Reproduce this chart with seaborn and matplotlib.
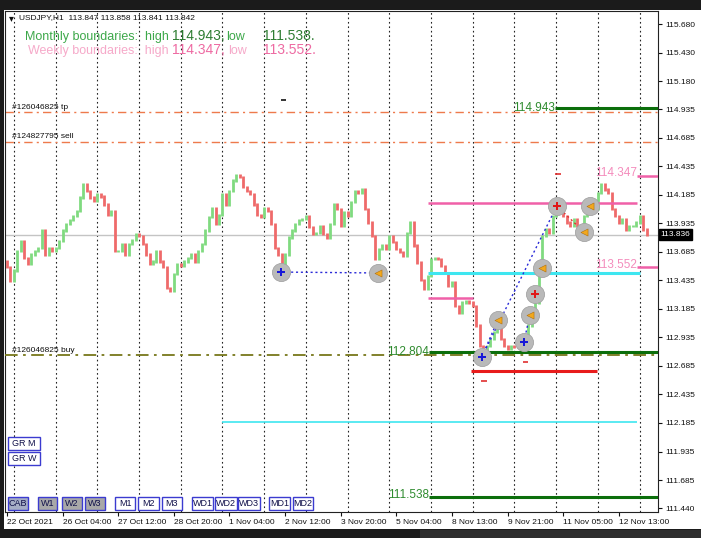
import numpy as np
import seaborn as sns
import matplotlib.pyplot as plt
import matplotlib.transforms as mtransforms
from matplotlib.patches import Rectangle

# USDJPY H1 closes, read every 2 bars off the chart (bar 0 = 22 Oct 20:00)
closes = [113.55, 113.43, 113.52, 113.69, 113.78, 113.63, 113.58, 113.66, 113.69, 113.72,
          113.87, 113.66, 113.72, 113.69, 113.72, 113.78, 113.87, 113.93, 113.96, 114.00,
          114.04, 114.16, 114.28, 114.22, 114.16, 114.13, 114.19, 114.17, 114.10, 114.01,
          114.04, 113.69, 113.69, 113.75, 113.66, 113.75, 113.79, 113.84, 113.82, 113.75,
          113.66, 113.58, 113.60, 113.69, 113.60, 113.55, 113.37, 113.34, 113.49, 113.58,
          113.56, 113.60, 113.63, 113.66, 113.60, 113.69, 113.75, 113.87, 113.99, 114.07,
          113.93, 114.01, 114.19, 114.10, 114.22, 114.31, 114.36, 114.34, 114.25, 114.22,
          114.19, 114.10, 114.01, 113.99, 114.07, 114.04, 113.93, 113.72, 113.66, 113.55,
          113.66, 113.81, 113.87, 113.93, 113.96, 113.97, 114.00, 113.90, 113.84, 113.85,
          113.91, 113.84, 113.81, 113.93, 114.10, 114.06, 113.91, 114.03, 114.00, 114.12,
          114.22, 114.20, 114.23, 114.06, 113.94, 113.82, 113.62, 113.71, 113.74, 113.71,
          113.82, 113.77, 113.71, 113.68, 113.65, 113.85, 113.94, 113.74, 113.59, 113.44,
          113.36, 113.47, 113.62, 113.63, 113.62, 113.56, 113.50, 113.39, 113.42, 113.21,
          113.15, 113.24, 113.25, 113.24, 113.21, 113.04, 112.86, 112.77, 112.86, 112.92,
          112.98, 113.06, 112.92, 112.86, 112.83, 112.86, 112.85, 112.86, 112.89, 112.95,
          113.04, 113.12, 113.24, 113.53, 113.82, 113.88, 113.85, 114.00, 114.09, 114.06,
          114.00, 113.94, 113.91, 113.97, 113.91, 113.88, 114.00, 114.06, 114.09, 114.06,
          114.20, 114.28, 114.23, 114.20, 114.06, 114.00, 113.94, 113.97, 113.88, 113.91,
          113.91, 113.94, 114.00, 113.88, 113.836]
first_open = 113.60
last_price = 113.836

x_tick_bars = [0, 32, 64, 96, 128, 160, 192, 224, 256, 288, 320, 352]
x_tick_labels = ['22 Oct 2021', '26 Oct 04:00', '27 Oct 12:00', '28 Oct 20:00',
                 '1 Nov 04:00', '2 Nov 12:00', '3 Nov 20:00', '5 Nov 04:00',
                 '8 Nov 13:00', '9 Nov 21:00', '11 Nov 05:00', '12 Nov 13:00']
y_ticks = [115.680, 115.430, 115.180, 114.935, 114.685, 114.435, 114.185, 113.935, 113.685,
           113.435, 113.185, 112.935, 112.685, 112.435, 112.185, 111.935, 111.685, 111.440]
day_bars = [4, 28, 52, 76, 100, 124, 148, 172, 196, 220, 244, 268, 292, 316, 340, 364]

# boundaries / order levels
month_high, month_low = 114.943, 111.538
week_high, week_low = 114.347, 113.552
tp_price, sell_price, buy_price = 114.905, 114.648, 112.78
level_112 = 112.804

# trade markers (bar, price, kind)
mark_bar = [157.9, 213.3, 273.2, 282.4, 297.4, 300.9, 303.7, 307.8, 316.4, 335.4, 332.0]
mark_price = [113.507, 113.499, 112.763, 113.087, 112.894, 113.131, 113.315, 113.542,
              114.086, 114.086, 113.858]
mark_kind = ['buy', 'close', 'buy', 'close', 'buy', 'close', 'sell', 'close', 'sell',
             'close', 'close']

buttons_bottom = ['CAB', 'W1', 'W2', 'W3', 'M1', 'M2', 'M3', 'WD1', 'WD2', 'WD3', 'MD1', 'MD2']

sns.set_style('white')
plt.rcParams['font.family'] = ['Liberation Sans', 'DejaVu Sans']

W, H = 701, 538
def fx(x):
    return x / W
def fy(y):
    return 1 - y / H

fig = plt.figure(figsize=(7.01, 5.38), dpi=100, facecolor='#1b1b1b')
fig.patches.append(Rectangle((fx(4), fy(529)), 697 / W, 519 / H, transform=fig.transFigure,
                             facecolor='white', edgecolor='none', zorder=-10))
fig.patches.append(Rectangle((fx(420), 0), 281 / W, 8 / H, transform=fig.transFigure,
                             facecolor='#2e2e2e', edgecolor='none', zorder=-10))

ax = fig.add_axes([fx(5), fy(512), fx(658) - fx(5), fy(11) - fy(512)])
ax.set_zorder(1)
x_right = 374.6
ax.set_xlim(-1.15, x_right)
ax.set_ylim(111.405, 115.794)

# day separators
for b in day_bars:
    ax.axvline(b, color='#222222', lw=0.8, ls=(0, (1.5, 2.5)), zorder=1)

# current price line
ax.axhline(last_price, color='#c4c4c4', lw=1, zorder=1)

# candles
bars = np.arange(len(closes)) * 2
c = np.array(closes)
o = np.concatenate([[first_open], c[:-1]])
cols = np.where(c >= o, '#80da80', '#ef6a6a')
ax.vlines(bars, np.minimum(o, c) - 0.01, np.maximum(o, c) + 0.01, colors=cols, lw=2.0, zorder=3)

# order lines
dashdot = (0, (6, 3, 1.5, 3))
ax.axhline(tp_price, color='#ee7a4c', lw=1, ls=dashdot, zorder=2)
ax.axhline(sell_price, color='#ee7a4c', lw=1, ls=dashdot, zorder=2)
ax.axhline(buy_price, color='#77771a', lw=1.3, ls=(0, (7, 3, 1.5, 3)), zorder=4)
ax.text(2.9, tp_price + 0.012, '#126046825 tp', fontsize=6, va='bottom', color='#111111')
ax.text(2.9, sell_price + 0.012, '#124827795 sell', fontsize=6, va='bottom', color='#111111')
ax.text(2.9, buy_price + 0.005, '#126046825 buy', fontsize=6, va='bottom', color='#111111')

# boundary levels
green = '#0b6e0b'
ax.hlines(month_high, 315.3, x_right, color=green, lw=2.2, zorder=5)
ax.hlines(level_112, 242.7, x_right, color=green, lw=2.2, zorder=5)
ax.hlines(month_low, 242.7, x_right, color=green, lw=2.2, zorder=5)
ax.hlines(week_high, 362.5, x_right, color='#f060a8', lw=1.8, zorder=5)
ax.hlines(week_low, 362.5, x_right, color='#f060a8', lw=1.8, zorder=5)
ax.hlines(114.11, 242.1, 362.5, color='#f060a8', lw=1.8, zorder=5)
ax.hlines(113.284, 242.1, 268.0, color='#f060a8', lw=1.8, zorder=5)
ax.hlines(113.503, 242.1, 364.3, color='#3ee6f0', lw=2.2, zorder=5)
ax.hlines(112.193, 123.9, 362.5, color='#3ee6f0', lw=1.2, zorder=5)
ax.hlines(112.64, 266.9, 339.5, color='#e81c1c', lw=2.2, zorder=5)

lab_kw = dict(fontsize=8.5, ha='right', va='center', zorder=6)
ax.text(315.3, month_high, '114.943', color='#2e8b2e', **lab_kw)
ax.text(242.7, level_112, '112.804', color='#2e8b2e', **lab_kw)
ax.text(242.7, month_low + 0.015, '111.538', color='#2e8b2e', **lab_kw)
ax.text(362.5, week_high + 0.025, '114.347', color='#f48cbc', **lab_kw)
ax.text(362.5, week_low + 0.02, '113.552', color='#f48cbc', **lab_kw)

# small dash marks
for b, p, col in [(159.0, 115.68 - 76 / 114.15, '#111111'), (317.0, 114.37, '#e03030'),
                  (298.5, 112.72, '#e03030'), (274.5, 112.55, '#e03030')]:
    ax.hlines(p, b - 1.5, b + 1.5, color=col, lw=1.2, zorder=5)

# trade links
ax.plot([157.9, 213.3], [113.507, 113.499], color='#2a2ad8', lw=1, ls=(0, (1.5, 2)), zorder=6)
ax.plot([273.2, 316.4], [112.763, 114.086], color='#2a2ad8', lw=1, ls=(0, (1.5, 2)), zorder=6)
ax.plot([273.2, 282.4], [112.763, 113.087], color='#2a2ad8', lw=1, ls=(0, (1.5, 2)), zorder=6)
ax.plot([297.4, 300.9], [112.894, 113.131], color='#2a2ad8', lw=1, ls=(0, (1.5, 2)), zorder=6)
ax.plot([316.4, 332.0], [114.086, 113.858], color='#e03030', lw=1, ls=(0, (1.5, 2)), zorder=6)

# trade markers: grey discs with icons
sns.scatterplot(x=mark_bar, y=mark_price, s=170, color='#b9b9b9', edgecolor='#a4a4a4',
                linewidth=0.6, ax=ax, zorder=7, legend=False)
for b, p, k in zip(mark_bar, mark_price, mark_kind):
    if k == 'buy':
        ax.scatter(b, p, marker='P', s=28, color='#1818d8', zorder=8, linewidths=0)
    elif k == 'sell':
        ax.scatter(b, p, marker='P', s=28, color='#e01818', zorder=8, linewidths=0)
    else:
        ax.scatter(b, p, marker='<', s=26, color='#f2a81c', edgecolor='#b07010',
                   linewidths=0.4, zorder=8)

# axes styling
ax.yaxis.tick_right()
ax.set_yticks(y_ticks)
ax.set_yticklabels([f'{v:.3f}' for v in y_ticks])
ax.set_xticks(x_tick_bars)
ax.set_xticklabels(x_tick_labels)
for lab in ax.get_xticklabels():
    lab.set_ha('left')
ax.tick_params(axis='both', length=3, width=0.8, pad=2, labelsize=6, colors='#111111',
               direction='out')
ax.tick_params(axis='x', bottom=True)
ax.tick_params(axis='y', right=True, left=False)
for s in ax.spines.values():
    s.set_color('#222222')
    s.set_linewidth(0.8)

trans = mtransforms.blended_transform_factory(ax.transAxes, ax.transData)
ax.text(1.004, last_price, '113.836', transform=trans, fontsize=6, color='white',
        va='center', ha='left',
        bbox=dict(boxstyle='square,pad=0.2', facecolor='black', edgecolor='black'))

# header texts
fig.text(fx(9), fy(18), '\u25be', fontsize=7, va='center', color='#111111')
fig.text(fx(19), fy(18), 'USDJPY,H1  113.847 113.858 113.841 113.842', fontsize=6,
         va='center', color='#111111')
fig.text(fx(25), fy(37), 'Monthly boundaries:  high', fontsize=9, va='center', color='#3da84a')
fig.text(fx(172), fy(36), '114.943,', fontsize=10, va='center', color='#2e7d32')
fig.text(fx(226), fy(37), 'low', fontsize=9, va='center', color='#3da84a')
fig.text(fx(263), fy(36), '111.538.', fontsize=10, va='center', color='#2e7d32')
fig.text(fx(28), fy(51), 'Weekly boundaries:  high', fontsize=9, va='center', color='#f6a9c9')
fig.text(fx(172), fy(50), '114.347,', fontsize=10, va='center', color='#ee6aa2')
fig.text(fx(228), fy(51), 'low', fontsize=9, va='center', color='#f6a9c9')
fig.text(fx(263), fy(50), '113.552.', fontsize=10, va='center', color='#ee6aa2')

# panel buttons
def button(x0, x1, y0, y1, text, fill):
    fig.patches.append(Rectangle((fx(x0), fy(y1)), (x1 - x0) / W, (y1 - y0) / H,
                                 transform=fig.transFigure, facecolor=fill,
                                 edgecolor='#3b3bd0', lw=1, zorder=10))
    fig.text(fx((x0 + x1) / 2), fy((y0 + y1) / 2), text, fontsize=6.5, ha='center',
             va='center', color='#10104a', zorder=11)

button(8, 40, 437, 450, 'GR M', 'white')
button(8, 40, 452, 465, 'GR W', 'white')
btn_x = [(8, 28), (38, 57), (62, 82), (85, 105), (115, 135), (138, 159), (162, 182),
         (192, 213), (215, 237), (238, 260), (269, 290), (293, 313)]
for (x0, x1), t in zip(btn_x, buttons_bottom):
    fill = '#a6aec6' if t == 'CAB' else ('#a8a8a8' if t.startswith('W') and len(t) == 2 else 'white')
    button(x0, x1, 497, 510, t, fill)

fig.savefig('out.png', dpi=100, facecolor=fig.get_facecolor())
